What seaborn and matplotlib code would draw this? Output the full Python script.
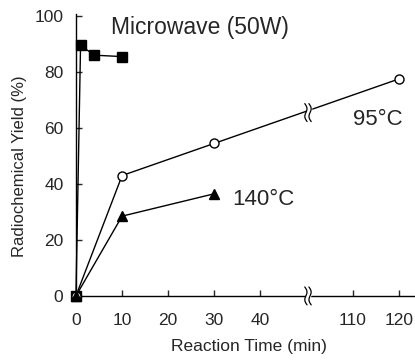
import numpy as np
import pandas as pd
import seaborn as sns
import matplotlib.pyplot as plt

# reaction time (min) and radiochemical yield (%)
mw_time = [0, 1, 4, 10]
mw_yield = [0, 89.5, 86, 85.5]

t95_time = [0, 10, 30, 120]
t95_yield = [0, 43, 54.5, 77.5]

t140_time = [0, 10, 30]
t140_yield = [0, 28.5, 36.5]

tick_minutes = [0, 10, 20, 30, 40, 110, 120]

# broken axis: 40..110 squeezed, everything past 110 is shifted left by 50
GAP = 50


def squeeze(t):
    t = np.asarray(t, dtype=float)
    return np.where(t >= 110, t - GAP, t)


sns.set_style("ticks")
plt.rcParams['font.family'] = ['Liberation Sans', 'DejaVu Sans']

fig = plt.figure(figsize=(4.15, 3.6), dpi=100)
ax = fig.add_axes([0.183, 0.178, 0.817, 0.783])

series = [
    (mw_time, mw_yield, 's', 'black', 6.5),
    (t95_time, t95_yield, 'o', 'white', 6.5),
    (t140_time, t140_yield, '^', 'black', 7.5),
]
for t, y, m, fc, ms in series:
    df = pd.DataFrame({'t': squeeze(t), 'y': y})
    sns.lineplot(data=df, x='t', y='y', ax=ax, color='black', lw=1,
                 marker=m, markersize=ms, markerfacecolor=fc,
                 markeredgecolor='black', markeredgewidth=1,
                 clip_on=False, zorder=3, sort=False)

ax.set_xlim(0, 73.5)
ax.set_ylim(0, 100.7)
ax.set_xticks(squeeze(tick_minutes))
ax.set_xticklabels([str(v) for v in tick_minutes])
ax.set_yticks([0, 20, 40, 60, 80, 100])
ax.tick_params(direction='in', length=4, width=1, labelsize=12.5)
ax.tick_params(axis='x', pad=12)
ax.tick_params(axis='y', pad=9)
sns.despine(ax=ax)
for s in ['left', 'bottom']:
    ax.spines[s].set_linewidth(1)
    ax.spines[s].set_color('black')

ax.set_xlabel('Reaction Time (min)', fontsize=12.5)
ax.set_ylabel('Radiochemical Yield (%)', fontsize=12)
ax.xaxis.set_label_coords(0.51, -0.152)
ax.yaxis.set_label_coords(-0.145, 0.46)


# break marks (double wavy slash)
def break_mark(x0, y0):
    s = np.linspace(-1, 1, 40)
    dy = s * 3.2
    dx = 0.35 * np.sin(s * np.pi) - s * 0.25
    ax.fill_betweenx(y0 + dy, x0 - 0.45 + dx, x0 + 0.45 + dx, color='white',
                     zorder=4, clip_on=False)
    for off in (-0.45, 0.45):
        ax.plot(x0 + off + dx, y0 + dy, color='black', lw=0.9, zorder=5,
                clip_on=False)


break_mark(50.3, 0)
break_mark(50.3, 65.5)

ax.text(7.6, 96, 'Microwave (50W)', fontsize=16.5, va='center', ha='left')
ax.text(60, 63, '95°C', fontsize=16, va='center', ha='left')
ax.text(33.8, 34.5, '140°C', fontsize=16, va='center', ha='left')

fig.savefig('out.png', dpi=100)
